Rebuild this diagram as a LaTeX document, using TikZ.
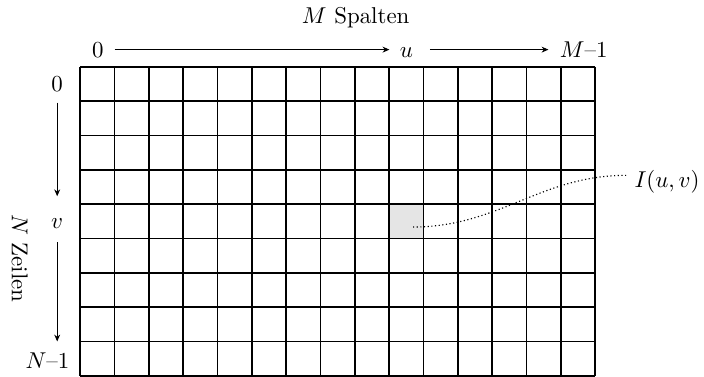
\documentclass[tikz,border=0pt]{standalone}
\usetikzlibrary{arrows.meta}
\tikzset{
  gridline/.style={line width=0.7pt, black},
  cellfill/.style={fill=black!10},
  axisarrow/.style={line width=0.4pt, -{Stealth[length=3pt,width=2.6pt]}},
  lbl/.style={inner sep=0pt, font=\normalsize},
  pointer/.style={line width=0.5pt, dash pattern=on 0.5pt off 1.1pt},
}
\begin{document}
\begin{tikzpicture}[x=0.4367pt,y=-0.4367pt]
\useasboundingbox (0,0) rectangle (704,376);
\def\cs{34.35}
% highlighted cell
\fill[cellfill] (80+9*\cs,66.7+4*\cs) rectangle (80+10*\cs,66.7+5*\cs);
% grid
\foreach \i in {0,...,15} \draw[gridline] (80+\i*\cs,66.7) -- (80+\i*\cs,66.7+9*\cs);
\foreach \j in {0,...,9} \draw[gridline] (80,66.7+\j*\cs) -- (80+15*\cs,66.7+\j*\cs);
% labels
\node[lbl, anchor=base] (title) at (355.7,23) {$M$ Spalten};
\node[lbl, anchor=base] (z0) at (97.8,57) {0};
\node[lbl, anchor=base] (u) at (406.5,57) {$u$};
\node[lbl, anchor=base] (M1) at (583.7,57) {$M$--1};
\node[lbl, anchor=base] (l0) at (57.2,91.7) {0};
\node[lbl] (v) at (57.2,223.6) {$v$};
\node[lbl, anchor=base] (N1) at (47.5,368.3) {$N$--1};
\node[lbl, rotate=-90] (zeilen) at (19.7,258.3) {$N$ Zeilen};
\node (I) at (667,181.5) {$I(u,v)$};
% axis arrows
\draw[axisarrow, shorten <=4.7pt, shorten >=4.4pt] (z0.east) -- (z0.east -| u.west);
\draw[axisarrow, shorten <=7.1pt, shorten >=4.8pt] (z0.east -| u.east) -- (z0.east -| M1.west);
\draw[axisarrow, shorten <=4.4pt, shorten >=9.6pt] (l0.south) -- (l0.south |- v.north);
\draw[axisarrow, shorten <=5.8pt, shorten >=4.7pt] (l0.south |- v.south) -- (l0.south |- N1.north);
% pointer
\coordinate (p) at (413,227);
\draw[pointer] (p) to[out=0,in=180] ([yshift=2.7pt]I.west);
\end{tikzpicture}
\end{document}
